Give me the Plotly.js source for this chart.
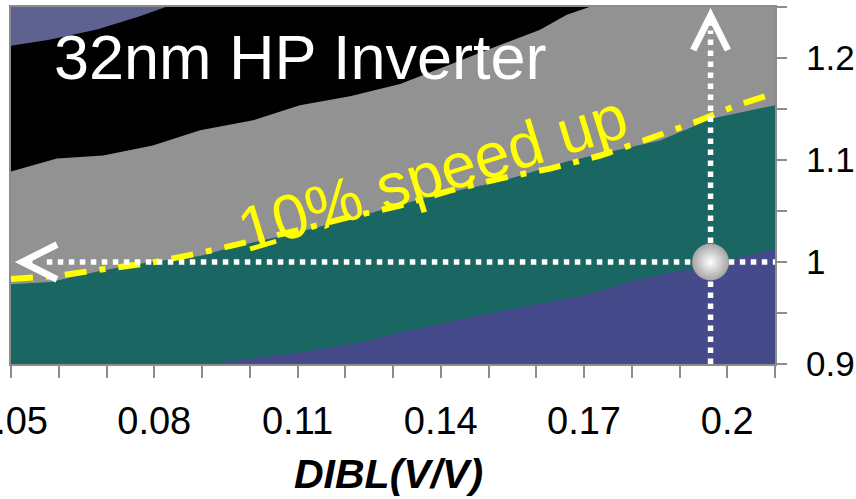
<!DOCTYPE html>
<html><head><meta charset="utf-8">
<script src="https://cdn.plot.ly/plotly-3.0.1.min.js"></script>
<style>html,body{margin:0;padding:0;background:#fff;} #chart{width:856px;height:499px;}</style>
</head><body><div id="chart"></div>
<script>
// Region boundaries (x = DIBL in V/V, y = normalized supply)
const blackTopX = [0.05, 0.058, 0.068, 0.077, 0.083, 0.21];
const blackTopY = [1.212, 1.218, 1.228, 1.241, 1.251, 1.27];

const greyTopX = [0.05, 0.0596, 0.0693, 0.0797, 0.0896, 0.1007, 0.1105, 0.121, 0.1315, 0.1384, 0.1524, 0.1608, 0.1664, 0.1719, 0.175, 0.21];
const greyTopY = [1.0887, 1.1015, 1.1044, 1.1143, 1.1291, 1.1389, 1.1537, 1.1626, 1.1744, 1.1872, 1.2128, 1.2276, 1.2424, 1.2512, 1.26, 1.27];

const tealTopX = [0.05, 0.0582, 0.0686, 0.0791, 0.0896, 0.0965, 0.1105, 0.121, 0.1384, 0.1524, 0.1664, 0.1859, 0.197, 0.21];
const tealTopY = [0.9783, 0.9803, 0.9911, 1.0, 1.0059, 1.0148, 1.0296, 1.0424, 1.065, 1.0788, 1.0985, 1.1192, 1.1409, 1.1537];

const blueTopX = [0.05, 0.0927, 0.1105, 0.1246, 0.1315, 0.1524, 0.1692, 0.1817, 0.1943, 0.21];
const blueTopY = [0.875, 0.9005, 0.9113, 0.9222, 0.931, 0.9517, 0.9665, 0.9833, 0.9951, 1.0128];

// 10% speed-up contour
const speedUpX = [0.05, 0.0592, 0.0712, 0.0791, 0.0896, 0.1001, 0.1105, 0.121, 0.1315, 0.1419, 0.1524, 0.1629, 0.1734, 0.1838, 0.1943, 0.202, 0.21];
const speedUpY = [0.9833, 0.9862, 0.9941, 0.999, 1.0089, 1.0197, 1.0315, 1.0443, 1.0552, 1.07, 1.0818, 1.0916, 1.1044, 1.1212, 1.1389, 1.1537, 1.1655];

// Nominal operating point
const nominalDIBL = [0.1965];
const nominalVdd = [1.0];
const hGuideX = [0.0575, 0.21];
const vGuideY = [0.9, 1.227];

// Axis ticks
const xTickVals = [0.05,0.06,0.07,0.08,0.09,0.10,0.11,0.12,0.13,0.14,0.15,0.16,0.17,0.18,0.19,0.20,0.21];
const xTickText = ['0.05','','','0.08','','','0.11','','','0.14','','','0.17','','','0.2',''];
const yTickVals = [0.9,0.95,1.0,1.05,1.1,1.15,1.2,1.25];
const yTickText = ['0.9','','1','','1.1','','1.2',''];

const FONT = 'Liberation Sans, Arial, sans-serif';
function band(x, y, color) {
  return {x: x, y: y, type: 'scatter', mode: 'lines', fill: 'tozeroy', fillcolor: color,
          line: {width: 0, color: color}, hoverinfo: 'skip', showlegend: false};
}
const traces = [
  band(blackTopX, blackTopY, '#000000'),
  band(greyTopX, greyTopY, '#929292'),
  band(tealTopX, tealTopY, '#1a6662'),
  band(blueTopX, blueTopY, '#454a8a'),
  {x: speedUpX, y: speedUpY, type: 'scatter', mode: 'lines', showlegend: false,
   line: {color: '#ffff00', width: 6, dash: '22px,13px,6px,13px'}},
  {x: hGuideX, y: [nominalVdd[0], nominalVdd[0]], type: 'scatter', mode: 'lines', showlegend: false,
   line: {color: '#ffffff', width: 5.5, dash: 'dot'}},
  {x: [nominalDIBL[0], nominalDIBL[0]], y: vGuideY, type: 'scatter', mode: 'lines', showlegend: false,
   line: {color: '#ffffff', width: 5.5, dash: 'dot'}},
  {x: nominalDIBL, y: nominalVdd, type: 'scatter', mode: 'markers', showlegend: false,
   marker: {size: 37, color: '#a4a4a4', gradient: {type: 'radial', color: '#ffffff'}, line: {width: 0}}}
];

const axisCommon = {showline: true, linecolor: '#8c8c8c', linewidth: 2, mirror: true,
  ticks: 'outside', tickwidth: 2, tickcolor: '#8c8c8c', showgrid: false, zeroline: false,
  tickmode: 'array', ticklabeloverflow: 'allow'};

const layout = {
  width: 856, height: 499,
  margin: {l: 11, r: 81, t: 7, b: 135},
  paper_bgcolor: '#ffffff', plot_bgcolor: '#5e6290',
  showlegend: false,
  xaxis: Object.assign({}, axisCommon, {range: [0.05, 0.21], tickvals: xTickVals, ticktext: xTickText,
    ticklen: 12, ticklabelstandoff: 10, automargin: false,
    tickfont: {family: FONT, size: 38, color: '#000'}}),
  yaxis: Object.assign({}, axisCommon, {range: [0.9, 1.25], side: 'right', tickvals: yTickVals, ticktext: yTickText,
    ticklen: 10, ticklabelstandoff: 12, automargin: false,
    tickfont: {family: FONT, size: 35, color: '#000'}}),
  annotations: [
    {xref: 'paper', yref: 'paper', x: 0.494, y: -0.308, xanchor: 'center', yanchor: 'middle', showarrow: false,
     borderpad: 0, text: 'DIBL(V/V)', font: {family: FONT, size: 41, color: '#000', weight: 'bold', style: 'italic'}},
    {xref: 'paper', yref: 'paper', x: 0.0537, y: 0.86, xanchor: 'left', yanchor: 'middle', showarrow: false,
     text: '32nm HP Inverter', font: {family: FONT, size: 63, color: '#ffffff'}},
    {xref: 'x', yref: 'y', x: 0.1382, y: 1.0877, showarrow: false, textangle: -17,
     text: '10% speed up', font: {family: FONT, size: 63, color: '#ffff00'}},
    {xref: 'x', yref: 'y', x: 0.0508, y: nominalVdd[0], text: '', font: {size: 1}, showarrow: true, ax: 16, ay: 0,
     arrowhead: 5, arrowwidth: 4, arrowsize: 1.7, arrowcolor: '#ffffff', standoff: 0, borderpad: 0},
    {xref: 'x', yref: 'y', x: nominalDIBL[0], y: 1.249, text: '', font: {size: 1}, showarrow: true, ax: 0, ay: 16,
     arrowhead: 5, arrowwidth: 4, arrowsize: 1.7, arrowcolor: '#ffffff', standoff: 0, borderpad: 0}
  ]
};
Plotly.newPlot('chart', traces, layout, {staticPlot: true, displayModeBar: false});
</script></body></html>
